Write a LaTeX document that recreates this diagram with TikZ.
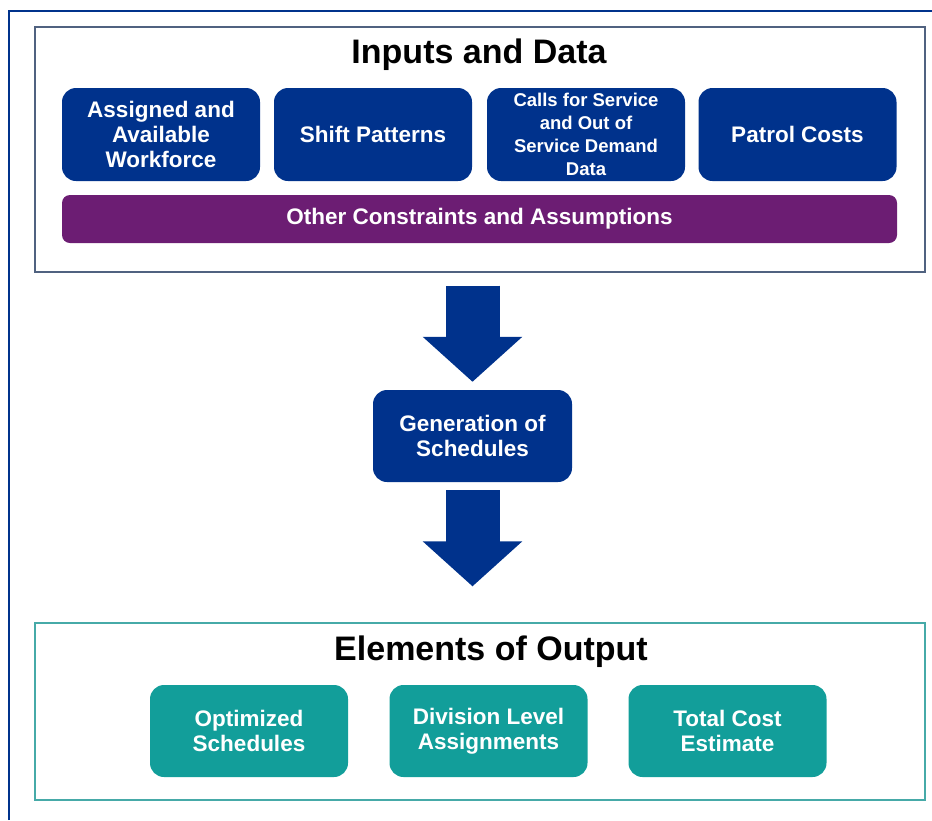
\documentclass[tikz,border=0pt]{standalone}
\usepackage{fontspec}
\setmainfont{Liberation Sans}
\usetikzlibrary{arrows.meta}

\definecolor{blaufosc}{RGB}{0,50,140}
\definecolor{lila}{RGB}{108,29,115}
\definecolor{turquesa}{RGB}{18,158,154}
\definecolor{vorablau}{RGB}{80,98,128}
\definecolor{voraturq}{RGB}{70,170,168}

\tikzset{
  caixa/.style={rounded corners=14pt, text=white, align=center, inner sep=0pt,
    font=\bfseries\fontsize{22.5}{25}\selectfont},
  entrada/.style={caixa, fill=blaufosc, minimum width=198pt, minimum height=93pt},
  sortida/.style={caixa, fill=turquesa, minimum width=198pt, minimum height=92pt},
  marc/.style={line width=1.3pt, inner sep=0pt, minimum width=890pt},
  titol/.style={anchor=base, font=\bfseries\fontsize{34}{40}\selectfont},
  fletxa/.style={draw=blaufosc, line width=54pt, -{Triangle[length=45pt,width=97pt]}}
}

\begin{document}
\begin{tikzpicture}[x=1pt,y=-1pt]
    \useasboundingbox (0,0) rectangle (932,820);
    \draw[blaufosc, line width=2pt] (9,820) -- (9,11) -- (932,11); % vora

    % Entrades
    \node[marc, draw=vorablau, minimum height=245pt] (dades) at (480,149.5) {};
    \node[titol] (titoldades) at (479,63) {Inputs and Data};
    \node[entrada] (personal) at (161,134.5) {Assigned and\\Available\\Workforce};
    \node[entrada] (torns) at (373,134.5) {Shift Patterns};
    \node[entrada, font=\bfseries\fontsize{18.5}{23}\selectfont] (trucades) at (586,134.5) {Calls for Service\\and Out of\\Service Demand\\Data};
    \node[entrada] (costos) at (797.5,134.5) {Patrol Costs};
    \node[caixa, fill=lila, minimum width=835pt, minimum height=48pt, rounded corners=8pt] (restriccions) at (479.5,219) {Other Constraints and Assumptions};

    % Generacio
    \node[caixa, fill=blaufosc, minimum width=199pt, minimum height=92pt] (generacio) at (472.5,436) {Generation of\\Schedules};

    % Sortides
    \node[marc, draw=voraturq, minimum height=177pt] (resultats) at (480,711.5) {};
    \node[titol] (titolresultats) at (491,660) {Elements of Output};
    \node[sortida] (horaris) at (249,731) {Optimized\\Schedules};
    \node[sortida] (divisions) at (488.5,731) {Division Level\\Assignments};
    \node[sortida] (cost) at (727.5,731) {Total Cost\\Estimate};

    \draw[fletxa, shorten <=13pt, shorten >=8pt] (dades.south -| generacio.north) -- (generacio.north);
    \draw[fletxa, shorten <=8pt, shorten >=36pt] (generacio.south) -- (resultats.north -| generacio.south);
\end{tikzpicture}
\end{document}
